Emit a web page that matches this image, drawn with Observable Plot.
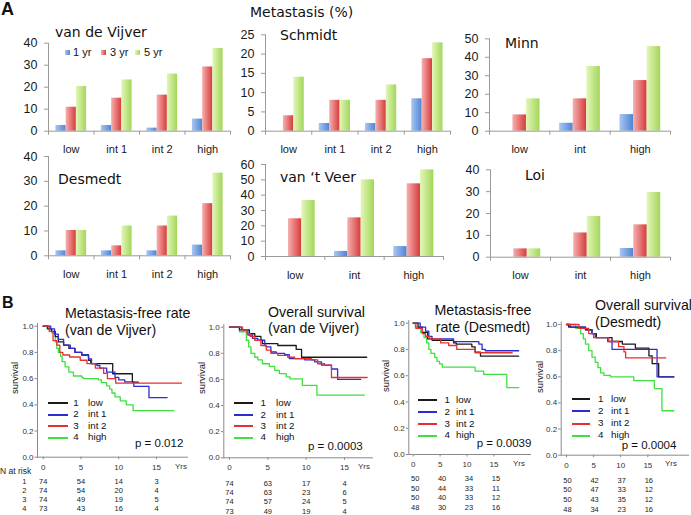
<!DOCTYPE html>
<html><head><meta charset="utf-8">
<script src="https://cdn.jsdelivr.net/npm/d3@7"></script>
<script src="https://cdn.jsdelivr.net/npm/@observablehq/plot@0.6"></script>
<style>
html,body{margin:0;padding:0;background:#fff;}
#fig{position:relative;width:691px;height:515px;overflow:hidden;font-family:"Liberation Sans",Arial,sans-serif;color:#111;}
#fig svg.layer{position:absolute;left:0;top:0;background:transparent !important;overflow:visible;}
.t{position:absolute;white-space:nowrap;line-height:1;}
</style></head><body><div id="fig"></div>
<script>
// ---------------- DATA ----------------
// Panel A: metastasis (%) by risk group; rows = 1 yr, 3 yr, 5 yr
const seriesA = ["1 yr", "3 yr", "5 yr"];
const catsFour = ["low", "int 1", "int 2", "high"];
const catsThree = ["low", "int", "high"];
const vanDeVijverPct = [[2.6, 2.6, 1.4, 5.5], [10.9, 15.0, 16.4, 29.2], [20.3, 23.3, 26.0, 37.6]];
const schmidtPct = [[0, 2, 2, 8.4], [4, 8, 8, 18.8], [14, 8, 12, 22.9]];
const minnPct = [[0, 4.3, 9], [8.8, 17.5, 27.4], [17.5, 35, 45.8]];
const desmedtPct = [[2, 2, 2, 4.3], [10.2, 4, 12, 21], [10.2, 12, 16, 33.3]];
const vantVeerPct = [[0, 3.3, 6.5], [24.6, 25.2, 47.4], [36.5, 50, 56.5]];
const loiPct = [[0, 0, 4], [3.8, 11.1, 14.8], [3.8, 18.6, 29.6]];
const ticks40 = [0, 10, 20, 30, 40];
const ticks25 = [0, 5, 10, 15, 20, 25];
const ticks50 = [0, 10, 20, 30, 40, 50];
const ticks60 = [0, 10, 20, 30, 40, 50, 60];

// Panel B: Kaplan-Meier steps [years, survival]
const groupCodes = ["1", "2", "3", "4"];
const groupNames = ["low", "int 1", "int 2", "high"];
const survTicks = [0, 0.2, 0.4, 0.6, 0.8, 1.0];
const yearTicks = [0, 5, 10, 15];
const riskTimes = [0, 5, 10, 15];

const vdvMfsLow = [[0,1],[0.6,0.98],[1.1,0.96],[1.6,0.92],[2.0,0.88],[2.7,0.855],[3.4,0.83],[4.2,0.80],[5.1,0.78],[6.0,0.74],[6.3,0.715],[9.2,0.637],[11.8,0.573],[12.6,0.573]];
const vdvMfsInt1 = [[0,1],[1.0,0.98],[1.5,0.94],[2.0,0.90],[2.7,0.855],[3.6,0.83],[4.2,0.80],[5.1,0.78],[6.0,0.75],[6.4,0.715],[7.1,0.70],[7.5,0.68],[8.4,0.65],[9.5,0.61],[10.0,0.59],[10.8,0.575],[12.0,0.54],[14.0,0.455],[16.4,0.455]];
const vdvMfsInt2 = [[0,1],[0.8,0.96],[1.3,0.89],[1.8,0.855],[2.2,0.80],[2.6,0.78],[3.5,0.765],[4.9,0.74],[5.8,0.715],[6.9,0.68],[8.0,0.64],[8.5,0.60],[9.6,0.565],[18.3,0.565]];
const vdvMfsHigh = [[0,1],[0.5,0.98],[1.1,0.95],[1.6,0.88],[1.8,0.83],[2.0,0.80],[2.3,0.77],[2.5,0.73],[2.9,0.69],[3.4,0.65],[4.0,0.62],[5.1,0.61],[5.3,0.60],[7.3,0.59],[7.7,0.57],[8.4,0.545],[8.8,0.52],[9.1,0.49],[9.5,0.46],[10.2,0.43],[11.0,0.40],[11.9,0.355],[17.3,0.355]];

const vdvOsLow = [[0,1],[1.3,0.98],[2.6,0.95],[3.3,0.93],[4.1,0.90],[4.3,0.875],[6.3,0.86],[8.7,0.83],[9.4,0.77],[17.9,0.77]];
const vdvOsInt1 = [[0,1],[1.6,0.98],[2.4,0.94],[3.0,0.915],[3.7,0.90],[4.6,0.86],[4.8,0.85],[5.4,0.81],[6.1,0.80],[7.2,0.79],[7.8,0.76],[9.8,0.75],[11.1,0.735],[12.0,0.71],[13.3,0.68],[14.1,0.60],[17.1,0.60]];
const vdvOsInt2 = [[0,1],[1.7,0.98],[2.3,0.95],[2.7,0.93],[3.3,0.90],[4.1,0.86],[4.8,0.825],[5.4,0.80],[6.3,0.785],[7.6,0.77],[8.5,0.76],[10.7,0.75],[11.5,0.72],[12.4,0.71],[13.3,0.615],[17.95,0.615]];
const vdvOsHigh = [[0,1],[1.3,0.965],[2.2,0.90],[2.5,0.85],[2.8,0.80],[3.3,0.77],[3.7,0.75],[4.3,0.72],[5.2,0.70],[5.9,0.67],[6.5,0.645],[7.4,0.62],[7.9,0.605],[9.5,0.555],[11.4,0.48],[17.6,0.48]];

const desMfsLow = [[0,1],[0.9,0.97],[1.7,0.93],[2.7,0.88],[3.5,0.87],[7.5,0.85],[8.0,0.84],[10.9,0.82],[11.5,0.78],[12.5,0.75],[19.6,0.75]];
const desMfsInt1 = [[0,1],[1.3,0.97],[2.3,0.94],[2.9,0.90],[3.5,0.88],[7.5,0.86],[12.2,0.84],[12.8,0.80],[13.4,0.79],[19.6,0.79]];
const desMfsInt2 = [[0,1],[0.5,0.96],[1.7,0.92],[2.3,0.90],[3.1,0.88],[5.1,0.85],[6.6,0.83],[8.1,0.80],[11.5,0.775],[18.4,0.775]];
const desMfsHigh = [[0,1],[0.4,0.97],[1.4,0.93],[2.0,0.89],[2.5,0.85],[2.9,0.80],[3.3,0.77],[4.0,0.74],[4.4,0.71],[4.9,0.69],[5.4,0.665],[11.5,0.635],[13.1,0.61],[17.4,0.51],[19.6,0.51]];

const desOsLow = [[0,1],[0.4,0.98],[3.5,0.96],[4.7,0.93],[5.5,0.90],[8.4,0.87],[10.3,0.85],[12.7,0.82],[15.2,0.76],[15.8,0.70],[17.0,0.60],[19.8,0.60]];
const desOsInt1 = [[0,1],[0.7,0.98],[3.5,0.96],[4.7,0.93],[5.3,0.90],[7.6,0.87],[8.4,0.81],[16.7,0.60],[19.8,0.60]];
const desOsInt2 = [[0,1],[2.3,0.97],[4.1,0.93],[5.0,0.90],[7.8,0.87],[9.6,0.83],[10.6,0.79],[10.9,0.745],[18.3,0.745]];
const desOsHigh = [[0,1],[1.7,0.97],[2.6,0.93],[3.1,0.89],[3.5,0.85],[4.1,0.80],[4.7,0.75],[5.3,0.71],[5.8,0.67],[6.3,0.63],[6.9,0.61],[8.1,0.60],[12.4,0.57],[16.2,0.51],[17.6,0.34],[19.8,0.34]];

// numbers at risk (rows = groups 1..4, columns = 0,5,10,15 yrs)
const vdvMfsRisk = [[74,54,14,3],[74,54,20,4],[74,49,19,5],[73,43,16,4]];
const vdvOsRisk = [[74,63,17,4],[74,63,23,6],[74,57,24,5],[73,49,19,4]];
const desMfsRisk = [[50,40,34,15],[50,44,33,11],[50,40,33,12],[48,30,23,16]];
const desOsRisk = [[50,42,37,16],[50,47,33,12],[50,43,35,12],[48,34,23,16]];

// ---------------- LAYOUT / STYLE ----------------
const W = 691, H = 515;
const fig = document.getElementById("fig");
const axisA = "#9a9a9a", axisB = "#8a8a8a";
const kmColors = ["#1a1a1a", "#2c2cd6", "#e5302f", "#3fe03f"];
const gradStops = [["#a9c6f2", "#4f84d6"], ["#f6b0b0", "#d63b3b"], ["#e3f6b8", "#a3d65a"]];

// gradient defs
(function () {
  const ns = "http://www.w3.org/2000/svg";
  const s = document.createElementNS(ns, "svg");
  s.setAttribute("width", "0"); s.setAttribute("height", "0");
  s.style.position = "absolute";
  const defs = document.createElementNS(ns, "defs");
  gradStops.forEach((st, k) => {
    const g = document.createElementNS(ns, "linearGradient");
    g.setAttribute("id", "grad" + k);
    g.setAttribute("x1", "0"); g.setAttribute("x2", "1"); g.setAttribute("y1", "0"); g.setAttribute("y2", "0");
    [[0, st[0]], [1, st[1]]].forEach(([o, c]) => {
      const stop = document.createElementNS(ns, "stop");
      stop.setAttribute("offset", o); stop.setAttribute("stop-color", c);
      g.appendChild(stop);
    });
    defs.appendChild(g);
  });
  s.appendChild(defs);
  fig.appendChild(s);
})();

function addSvg(svg) { svg.classList.add("layer"); fig.appendChild(svg); }

function txt(s, x, cy, o = {}) {
  const size = o.size || 11;
  const d = document.createElement("div");
  d.className = "t"; d.textContent = s;
  d.style.fontSize = size + "px";
  d.style.fontFamily = `"${o.family || "Liberation Sans"}", sans-serif`;
  d.style.fontWeight = o.weight || "normal";
  d.style.color = o.color || "#111";
  d.style.top = (cy - size * 0.5) + "px";
  d.style.left = x + "px";
  if (o.anchor === "middle") d.style.transform = "translateX(-50%)";
  if (o.rotate) { d.style.top = cy + "px"; d.style.transform = "translate(-50%,-50%) rotate(-90deg)"; }
  fig.appendChild(d);
}

function barChart(spec) {
  const [x0, x1, yTop, yBot] = spec.frame;
  const cats = spec.cats, n = cats.length;
  const bw = (x1 - x0) / n, barW = bw * 0.225, inset = (bw - barW) / 2;
  const bars = spec.vals.map((vals, k) =>
    Plot.barY(cats.map((c, i) => ({cat: c, v: vals[i], s: seriesA[k]})),
      {x: "cat", y: "v", fill: `url(#grad${k})`, insetLeft: inset, insetRight: inset, dx: (k - 1) * barW}));
  const frameH = yBot - yTop;
  return Plot.plot({
    width: W, height: H,
    marginLeft: x0, marginRight: W - x1, marginTop: yTop, marginBottom: H - yBot,
    style: {background: "transparent", fontFamily: "Liberation Sans", overflow: "visible"},
    x: {domain: cats, padding: 0, round: false, label: null},
    y: {domain: [0, spec.ticks[spec.ticks.length - 1]], label: null},
    marks: [
      ...bars,
      Plot.frame({anchor: "left", stroke: axisA}),
      Plot.ruleY([0], {stroke: axisA}),
      Plot.ruleX(cats, {x: d => d, dx: -bw / 2, insetTop: frameH, insetBottom: -4, stroke: axisA}),
      Plot.ruleX([cats[n - 1]], {x: d => d, dx: bw / 2, insetTop: frameH, insetBottom: -4, stroke: axisA}),
      Plot.axisY(spec.ticks, {tickSize: 4, tickPadding: 7, fontSize: 12.5, stroke: axisA, fill: "#1a1a1a", fontFamily: "Liberation Sans", label: null}),
      Plot.axisX({tickSize: 0, tickPadding: 14.2, fontSize: 11, fill: "#1a1a1a", fontFamily: "Liberation Sans", label: null})
    ]
  });
}

function kmChart(spec) {
  const [x0, x1, y1, y0] = spec.frame; // x range, y pixel of 1.0 and 0.0
  const yTop = y0 - (y0 - y1) * 1.02;
  const order = [3, 0, 1, 2];
  const lines = order.map(g => Plot.line(spec.curves[g],
    {x: d => d[0], y: d => d[1], curve: "step-after", stroke: kmColors[g], strokeWidth: 1.3}));
  addSvg(Plot.plot({
    width: W, height: H,
    marginLeft: x0, marginRight: W - x1, marginTop: yTop, marginBottom: H - y0,
    style: {background: "transparent", fontFamily: "Liberation Sans", overflow: "visible"},
    x: {domain: spec.xDomain, label: null},
    y: {domain: [0, 1.02], label: null},
    marks: [
      ...lines,
      Plot.frame({anchor: "left", stroke: axisB}),
      Plot.frame({anchor: "bottom", stroke: axisB}),
      Plot.axisY(survTicks, {tickSize: 2.5, tickPadding: 1.5, tickFormat: ".1f", fontSize: 8, stroke: axisB, fill: "#333", fontFamily: "Liberation Sans", label: null}),
      Plot.axisX(yearTicks, {tickSize: 2.5, tickPadding: 4.5, fontSize: 8, stroke: axisB, fill: "#333", fontFamily: "Liberation Sans", label: null})
    ]
  }));
  // risk table
  const riskData = [];
  spec.risk.forEach((row, g) => row.forEach((nv, j) => riskData.push({t: riskTimes[j], g: g + 1, n: nv})));
  const rmarks = [Plot.text(riskData, {x: "t", y: "g", text: d => String(d.n), fontSize: 7.5, fill: "#222", dx: spec.riskDx || 0, fontFamily: "Liberation Sans"})];
  if (spec.rowLabels) rmarks.push(Plot.text(groupCodes, {y: (d, i) => i + 1, text: d => d, frameAnchor: "left", dx: -15.3, fontSize: 7.5, fill: "#222", fontFamily: "Liberation Sans"}));
  addSvg(Plot.plot({
    width: W, height: H,
    marginLeft: x0, marginRight: W - x1,
    style: {background: "transparent", overflow: "visible"},
    x: {domain: spec.xDomain, axis: null},
    y: {domain: [1, 4], range: spec.riskRows, axis: null},
    marks: rmarks
  }));
  // titles, legend, p-value, axis labels
  spec.title.forEach(([s, x, cy, anchor]) => txt(s, x, cy, {size: 14.2, anchor}));
  const L = spec.legend;
  groupCodes.forEach((c, g) => {
    const cy = L.ys[g];
    const ln = document.createElement("div");
    ln.style.cssText = `position:absolute;left:${Math.round(L.line[0])}px;width:${Math.round(L.line[1] - L.line[0])}px;top:${Math.round(cy - 0.8)}px;height:1.7px;background:${kmColors[g]}`;
    fig.appendChild(ln);
    txt(c, L.num, cy, {size: 9.8, anchor: "middle"});
    txt(groupNames[g], L.lab, cy, {size: 9.8});
  });
  txt(spec.p[0], spec.p[1], spec.p[2], {size: 11.5});
  txt("survival", spec.surv[0], spec.surv[1], {size: 9.5, rotate: true});
  txt("Yrs", spec.yrs[0], spec.yrs[1], {size: 8, anchor: "middle", color: "#333"});
}

// ---------------- PANEL A ----------------
const barSpecs = [
  {name: "van de Vijver", cats: catsFour, vals: vanDeVijverPct, ticks: ticks40, frame: [48, 230, 42.7, 130.7], title: [55, 32]},
  {name: "Schmidt", cats: catsFour, vals: schmidtPct, ticks: ticks25, frame: [265, 450, 34.3, 130.7], title: [280, 35]},
  {name: "Minn", cats: catsThree, vals: minnPct, ticks: ticks50, frame: [489, 670, 38.3, 130.7], title: [505, 43]},
  {name: "Desmedt", cats: catsFour, vals: desmedtPct, ticks: ticks40, frame: [48, 230, 156, 255.3], title: [58, 179]},
  {name: "van \u2018t Veer", cats: catsThree, vals: vantVeerPct, ticks: ticks60, frame: [265, 443, 164, 256], title: [280, 177]},
  {name: "Loi", cats: catsThree, vals: loiPct, ticks: ticks40, frame: [490, 670, 169.3, 256.7], title: [525, 175]}
];
barSpecs.forEach(s => {
  addSvg(barChart(s));
  txt(s.name, s.title[0], s.title[1], {size: 14, family: "DejaVu Sans"});
});
txt("A", 1, 9, {size: 18, weight: "bold"});
txt("Metastasis (%)", 250, 12, {size: 14, family: "DejaVu Sans"});
// panel A legend
const legA = [[65, 73], [101, 110], [135, 144]];
seriesA.forEach((s, k) => {
  const sq = document.createElement("div");
  sq.style.cssText = `position:absolute;left:${legA[k][0]}px;top:49.5px;width:5px;height:5px;background:linear-gradient(90deg,${gradStops[k][0]},${gradStops[k][1]})`;
  fig.appendChild(sq);
  txt(s, legA[k][1], 52, {size: 11});
});

// ---------------- PANEL B ----------------
txt("B", 2, 303, {size: 16, weight: "bold"});
txt("N at risk", 0, 471.7, {size: 8.5, color: "#222"});
kmChart({
  curves: [vdvMfsLow, vdvMfsInt1, vdvMfsInt2, vdvMfsHigh], risk: vdvMfsRisk, rowLabels: true,
  xDomain: [-0.755, 19.1], frame: [37, 187, 325.7, 456.7], riskRows: [481, 508.3],
  title: [["Metastasis-free rate", 65, 313], ["(van de Vijver)", 65, 330]],
  legend: {line: [48, 68], num: 76, lab: 88, ys: [402.7, 414.3, 425.7, 437.3]},
  p: ["p = 0.012", 135, 444], surv: [15, 377.5], yrs: [181, 466.7]
});
kmChart({
  curves: [vdvOsLow, vdvOsInt1, vdvOsInt2, vdvOsHigh], risk: vdvOsRisk,
  xDomain: [-0.74, 18.65], frame: [223.3, 372, 326.7, 457.3], riskRows: [482.7, 510.7],
  title: [["Overall survival", 268, 312], ["(van de Vijver)", 268, 328]],
  legend: {line: [234, 253], num: 263.3, lab: 276, ys: [402.7, 414.7, 425.7, 437.3]},
  p: ["p = 0.0003", 308, 446.7], surv: [202, 378], yrs: [364, 467.3]
});
kmChart({
  curves: [desMfsLow, desMfsInt1, desMfsInt2, desMfsHigh], risk: desMfsRisk, riskDx: 2,
  xDomain: [-0.82, 21.8], frame: [408.3, 530, 322.7, 454], riskRows: [478, 507.3],
  title: [["Metastasis-free", 483, 310, "middle"], ["rate (Desmedt)", 483, 326.7, "middle"]],
  legend: {line: [418.3, 437.3], num: 447.3, lab: 456, ys: [400, 412, 424, 435.3]},
  p: ["p = 0.0039", 476.7, 444], surv: [386, 376], yrs: [519, 463.5]
});
kmChart({
  curves: [desOsLow, desOsInt1, desOsInt2, desOsHigh], risk: desOsRisk, riskDx: 1,
  xDomain: [-0.98, 22.5], frame: [560.7, 688, 324, 454.7], riskRows: [480, 508.7],
  title: [["Overall survival", 595, 305], ["(Desmedt)", 595, 321.7]],
  legend: {line: [571.7, 590], num: 600.7, lab: 611, ys: [398.7, 410.7, 423.3, 435.3]},
  p: ["p = 0.0004", 621.7, 446], surv: [540, 377], yrs: [671, 464]
});
</script>
</body></html>
